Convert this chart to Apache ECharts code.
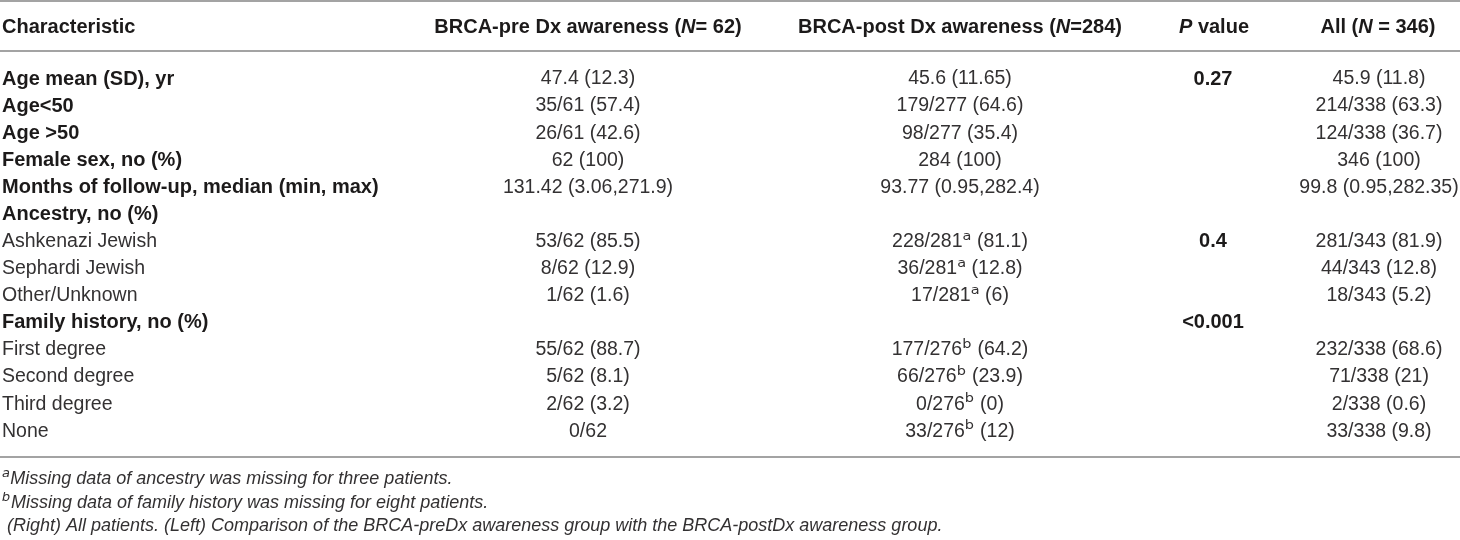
<!DOCTYPE html>
<html>
<head>
<meta charset="utf-8">
<script src="https://cdn.jsdelivr.net/npm/echarts/dist/echarts.min.js"></script>
<style>
  html, body { margin: 0; padding: 0; background: #fff; }
  #chart { width: 1460px; height: 540px; }
</style>
</head>
<body>
<div id="chart"></div>
<script>
// table content
const headers = [
  'Characteristic',
  'BRCA-pre Dx awareness ({bi|N}= 62)',
  'BRCA-post Dx awareness ({bi|N}=284)',
  '{bi|P} value',
  'All ({bi|N} = 346)'
]
const rowLabels = [
  'Age mean (SD), yr', 'Age<50', 'Age >50', 'Female sex, no (%)',
  'Months of follow-up, median (min, max)', 'Ancestry, no (%)',
  'Ashkenazi Jewish', 'Sephardi Jewish', 'Other/Unknown',
  'Family history, no (%)', 'First degree', 'Second degree', 'Third degree', 'None'
]
const boldRows = [1, 1, 1, 1, 1, 1, 0, 0, 0, 1, 0, 0, 0, 0]
const preDx = [
  '47.4 (12.3)', '35/61 (57.4)', '26/61 (42.6)', '62 (100)', '131.42 (3.06,271.9)', '',
  '53/62 (85.5)', '8/62 (12.9)', '1/62 (1.6)', '',
  '55/62 (88.7)', '5/62 (8.1)', '2/62 (3.2)', '0/62'
]
const postDx = [
  '45.6 (11.65)', '179/277 (64.6)', '98/277 (35.4)', '284 (100)', '93.77 (0.95,282.4)', '',
  '228/281 (81.1)', '36/281 (12.8)', '17/281 (6)', '',
  '177/276 (64.2)', '66/276 (23.9)', '0/276 (0)', '33/276 (12)'
]
const postMarks = ['', '', '', '', '', '', 'a', 'a', 'a', '', 'b', 'b', 'b', 'b']
const pValues = ['0.27', '', '', '', '', '', '0.4', '', '', '<0.001', '', '', '', '']
const allPts = [
  '45.9 (11.8)', '214/338 (63.3)', '124/338 (36.7)', '346 (100)', '99.8 (0.95,282.35)', '',
  '281/343 (81.9)', '44/343 (12.8)', '18/343 (5.2)', '',
  '232/338 (68.6)', '71/338 (21)', '2/338 (0.6)', '33/338 (9.8)'
]
const footnoteMarks = ['a', 'b', '']
const footnotes = [
  'Missing data of ancestry was missing for three patients.',
  'Missing data of family history was missing for eight patients.',
  ' (Right) All patients. (Left) Comparison of the BRCA-preDx awareness group with the BRCA-postDx awareness group.'
]

// layout
const W = 1460
const FONT = '"Liberation Sans", Arial, Helvetica, sans-serif'
const SUP_FONT = '"DejaVu Sans", sans-serif'
const INK = '#1c1a1a'
const INK_LIGHT = '#333132'
const RULE = '#a3a3a3'
const HEAD_X = [2, 588, 960, 1214, 1378]
const COL_X = [2, 588, 960, 1213, 1379]
const SUP = { a: '\u1d43', b: '\u1d47' }

const rich = {
  sup: { fontFamily: SUP_FONT, fontSize: 23, lineHeight: 22, color: INK_LIGHT },
  bi: { fontFamily: FONT, fontSize: 20, fontWeight: 'bold', fontStyle: 'italic', color: INK }
}

function withMark (v, m) {
  if (!m) return v
  const k = v.indexOf(' ')
  return v.slice(0, k) + '{sup|' + SUP[m] + '}' + v.slice(k)
}

const columns = [
  rowLabels,
  preDx,
  postDx.map((v, i) => withMark(v, postMarks[i])),
  pValues,
  allPts
]

function cellSeries (col, c) {
  const data = []
  col.forEach((txt, i) => {
    if (!txt) return
    const bold = c === 3 || (c === 0 && boldRows[i])
    data.push({
      value: [COL_X[c], i],
      text: txt,
      label: {
        fontWeight: bold ? 'bold' : 'normal',
        fontSize: bold ? 20 : 19.5,
        color: bold ? INK : INK_LIGHT
      }
    })
  })
  return {
    type: 'scatter',
    xAxisIndex: 1,
    yAxisIndex: 1,
    symbolSize: 0,
    silent: true,
    itemStyle: { opacity: 1 },
    data: data,
    label: {
      show: true,
      position: 'inside',
      align: c === 0 ? 'left' : 'center',
      verticalAlign: 'middle',
      fontFamily: FONT,
      opacity: 1,
      formatter: p => p.data.text,
      rich: rich
    }
  }
}

const headerSeries = {
  type: 'scatter',
  xAxisIndex: 0,
  yAxisIndex: 0,
  symbolSize: 0,
  silent: true,
  itemStyle: { opacity: 1 },
  data: headers.map((h, c) => ({
    value: [HEAD_X[c], 0],
    text: h,
    label: { align: c === 0 ? 'left' : 'center' }
  })),
  label: {
    show: true,
    position: 'inside',
    verticalAlign: 'middle',
    fontFamily: FONT,
    fontSize: 20,
    fontWeight: 'bold',
    color: INK,
    opacity: 1,
    formatter: p => p.data.text,
    rich: rich
  }
}

function rule (y) {
  return { type: 'line', shape: { x1: 0, y1: y, x2: W, y2: y }, style: { stroke: RULE, lineWidth: 2 }, silent: true }
}

const noteRich = {
  sup: { fontFamily: SUP_FONT, fontSize: 21, lineHeight: 20, fontStyle: 'italic', fill: INK_LIGHT }
}

const graphic = [rule(1), rule(51), rule(457)].concat(footnotes.map((t, i) => ({
  type: 'text',
  left: 2,
  top: 468 + i * 24.5,
  silent: true,
  style: {
    text: (footnoteMarks[i] ? '{sup|' + SUP[footnoteMarks[i]] + '}' : '') + t,
    fontFamily: FONT,
    fontSize: 18,
    fontStyle: 'italic',
    fill: INK_LIGHT,
    rich: noteRich
  }
})))

const chart = echarts.init(document.getElementById('chart'), null, { renderer: 'canvas' })
chart.setOption({
  animation: false,
  backgroundColor: '#fff',
  grid: [
    { left: 0, right: 0, top: 2, height: 50 },
    { left: 0, right: 0, top: 65.45, height: 379.4 }
  ],
  xAxis: [
    { gridIndex: 0, type: 'value', min: 0, max: W, show: false },
    { gridIndex: 1, type: 'value', min: 0, max: W, show: false }
  ],
  yAxis: [
    { gridIndex: 0, type: 'category', data: ['header'], show: false },
    { gridIndex: 1, type: 'category', data: rowLabels, inverse: true, show: false }
  ],
  graphic: graphic,
  series: [headerSeries].concat(columns.map(cellSeries))
})
window.addEventListener('resize', () => chart.resize())
</script>
</body>
</html>
